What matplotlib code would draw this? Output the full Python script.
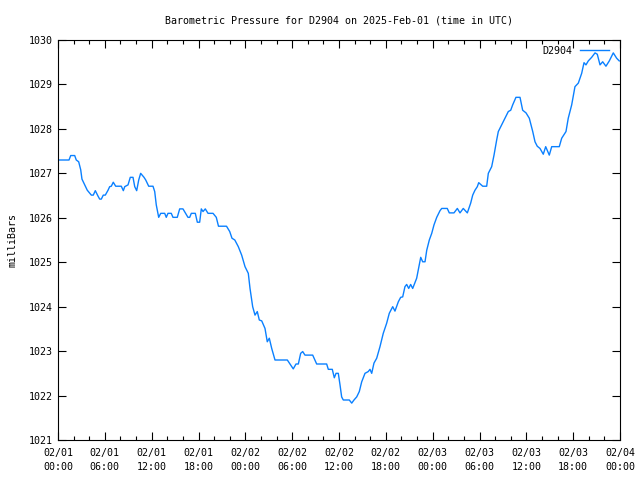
import numpy as np
import pandas as pd
import matplotlib
matplotlib.use("Agg")
import matplotlib.pyplot as plt
import matplotlib.dates as mdates

# hours after 2025-02-01 00:00 UTC, pressure in millibars
hours = [0.00, 1.41, 1.63, 2.14, 2.34, 2.65, 2.91, 3.07, 3.42, 3.75, 4.27, 4.52, 4.78, 5.12,
         5.34, 5.55, 5.80, 6.06, 6.41, 6.62, 6.83, 7.08, 7.39, 8.11, 8.37, 8.55, 8.97, 9.26,
         9.61, 9.83, 10.08, 10.34, 10.59, 11.02, 11.24, 11.62, 12.17, 12.39, 12.59, 12.90,
         13.16, 13.67, 13.87, 14.09, 14.51, 14.73, 15.28, 15.59, 16.01, 16.31, 16.65, 16.87,
         17.08, 17.59, 17.85, 18.15, 18.36, 18.58, 18.87, 19.22, 19.86, 20.28, 20.56, 21.59,
         22.00, 22.29, 22.65, 23.10, 23.53, 23.96, 24.38, 24.60, 24.94, 25.24, 25.53, 25.79,
         26.10, 26.52, 26.81, 27.07, 27.38, 27.80, 29.38, 29.72, 30.14, 30.49, 30.79, 31.09,
         31.35, 31.64, 32.63, 33.14, 34.42, 34.63, 35.14, 35.40, 35.62, 35.91, 36.13, 36.34,
         36.55, 37.32, 37.63, 37.92, 38.27, 38.60, 38.91, 39.33, 39.75, 39.97, 40.19, 40.48,
         40.83, 41.25, 41.67, 42.11, 42.44, 42.88, 43.17, 43.60, 43.90, 44.16, 44.45, 44.67,
         44.93, 45.18, 45.44, 45.95, 46.29, 46.47, 46.72, 47.02, 47.24, 47.57, 47.88, 48.17,
         48.52, 48.94, 49.16, 49.87, 50.13, 50.73, 51.16, 51.50, 51.92, 52.44, 52.87, 53.13,
         53.42, 53.72, 53.90, 54.41, 54.92, 55.13, 55.56, 55.86, 56.20, 56.41, 56.84, 57.27,
         57.69, 58.00, 58.25, 58.67, 59.19, 59.53, 59.96, 60.38, 60.82, 61.11, 61.40, 61.75,
         62.17, 62.48, 62.94, 63.25, 64.22, 64.53, 65.08, 65.37, 65.81, 66.23, 66.66, 67.09,
         67.39, 67.64, 67.94, 68.37, 68.80, 69.09, 69.44, 69.78, 70.20, 70.63, 71.14, 71.57,
         71.90]
pressure = [1027.3, 1027.3, 1027.4, 1027.4, 1027.3, 1027.26, 1027.08, 1026.87, 1026.74,
            1026.62, 1026.51, 1026.51, 1026.61, 1026.49, 1026.42, 1026.42, 1026.51, 1026.51,
            1026.62, 1026.70, 1026.71, 1026.80, 1026.71, 1026.71, 1026.61, 1026.70, 1026.74,
            1026.91, 1026.91, 1026.70, 1026.61, 1026.85, 1027.00, 1026.91, 1026.85, 1026.71,
            1026.71, 1026.59, 1026.29, 1026.01, 1026.10, 1026.10, 1026.01, 1026.10, 1026.10,
            1026.01, 1026.01, 1026.20, 1026.20, 1026.11, 1026.01, 1026.01, 1026.10, 1026.10,
            1025.90, 1025.90, 1026.20, 1026.14, 1026.20, 1026.10, 1026.10, 1026.01, 1025.81,
            1025.81, 1025.69, 1025.54, 1025.50, 1025.35, 1025.16, 1024.90, 1024.75, 1024.41,
            1024.00, 1023.81, 1023.89, 1023.70, 1023.68, 1023.51, 1023.21, 1023.29, 1023.06,
            1022.80, 1022.80, 1022.71, 1022.60, 1022.71, 1022.71, 1022.95, 1022.99, 1022.91,
            1022.91, 1022.71, 1022.71, 1022.59, 1022.59, 1022.40, 1022.50, 1022.50, 1022.24,
            1021.97, 1021.90, 1021.90, 1021.83, 1021.90, 1021.97, 1022.09, 1022.31, 1022.50,
            1022.54, 1022.59, 1022.50, 1022.73, 1022.84, 1023.10, 1023.40, 1023.63, 1023.85,
            1024.00, 1023.90, 1024.11, 1024.21, 1024.22, 1024.45, 1024.50, 1024.41, 1024.50,
            1024.41, 1024.64, 1024.94, 1025.11, 1025.01, 1025.01, 1025.27, 1025.50, 1025.65,
            1025.84, 1026.01, 1026.16, 1026.21, 1026.21, 1026.11, 1026.11, 1026.21, 1026.11,
            1026.21, 1026.11, 1026.33, 1026.51, 1026.62, 1026.70, 1026.79, 1026.71, 1026.71,
            1027.00, 1027.15, 1027.41, 1027.75, 1027.94, 1028.09, 1028.24, 1028.39, 1028.42,
            1028.54, 1028.71, 1028.71, 1028.42, 1028.36, 1028.24, 1027.94, 1027.71, 1027.61,
            1027.56, 1027.43, 1027.60, 1027.41, 1027.60, 1027.60, 1027.79, 1027.94, 1028.24,
            1028.54, 1028.95, 1029.03, 1029.25, 1029.49, 1029.44, 1029.53, 1029.61, 1029.71,
            1029.68, 1029.44, 1029.51, 1029.41, 1029.53, 1029.71, 1029.59, 1029.53]

start = pd.Timestamp("2025-02-01 00:00")
end = pd.Timestamp("2025-02-04 00:00")
times = start + pd.to_timedelta(hours, unit="h")

plt.rcParams["font.family"] = "DejaVu Sans Mono"
plt.rcParams["font.size"] = 7.2

fig = plt.figure(figsize=(6.4, 4.8), dpi=100)
ax = fig.add_axes([58/640, 40/480, 562/640, 400/480])

ax.plot(times, pressure, color="#0a80ff", lw=1.0, label="D2904")

ax.set_xlim(start, end)
ax.set_ylim(1021, 1030)
ax.set_yticks(np.arange(1021, 1031, 1))
ax.xaxis.set_major_locator(mdates.HourLocator(byhour=range(0, 24, 6)))
ax.xaxis.set_minor_locator(mdates.HourLocator(byhour=range(0, 24, 2)))
ax.xaxis.set_major_formatter(mdates.DateFormatter("%m/%d\n%H:%M"))

ax.tick_params(which="both", direction="in", top=True, right=True, color="black")
ax.tick_params(which="major", length=6, width=0.8)
ax.tick_params(which="minor", length=3, width=0.8)
ax.tick_params(axis="x", which="major", pad=6)
ax.tick_params(axis="y", which="major", pad=4)
for lbl in ax.get_xticklabels():
    lbl.set_linespacing(1.45)

for s in ax.spines.values():
    s.set_linewidth(0.8)

ax.set_title("Barometric Pressure for D2904 on 2025-Feb-01 (time in UTC)",
             fontsize=7.2, pad=12)
ax.set_ylabel("milliBars", labelpad=8)

ax.legend(loc="upper right", bbox_to_anchor=(1 - 5/562, 1), frameon=False,
          markerfirst=False, handlelength=2.9, borderaxespad=0.2, handletextpad=0.8)

fig.savefig("out.png", dpi=100)
